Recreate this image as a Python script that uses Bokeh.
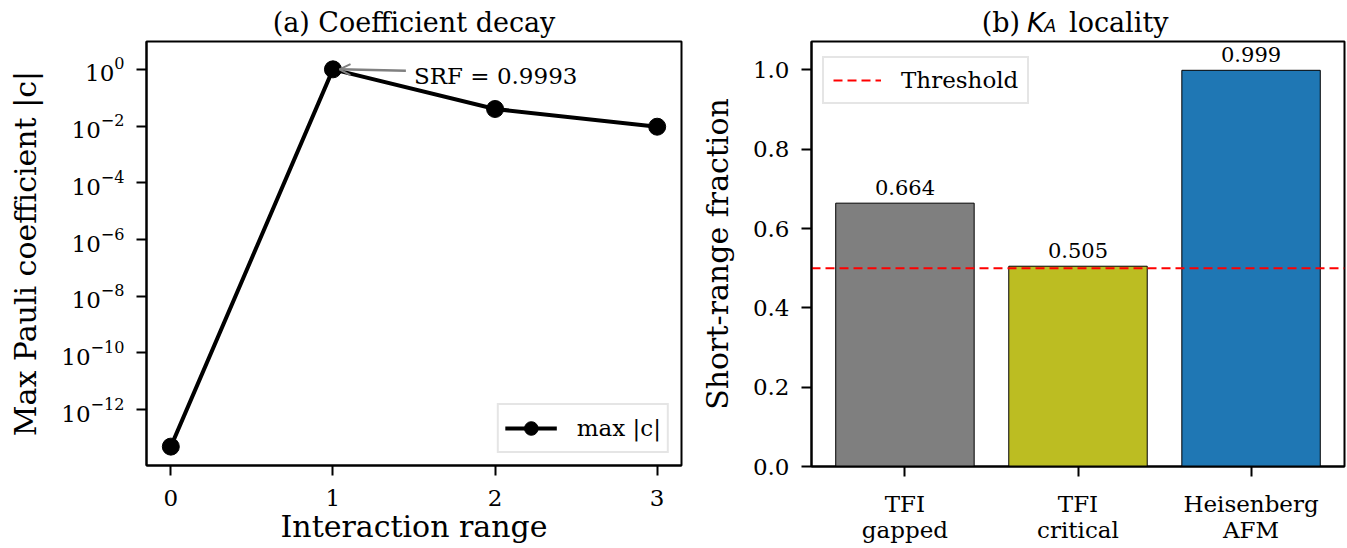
import numpy as np
from bokeh.plotting import figure
from bokeh.layouts import row, column
from bokeh.models import (Range1d, FixedTicker, LogTickFormatter, PrintfTickFormatter,
                          Arrow, OpenHead, Label, LabelSet, ColumnDataSource)
from bokeh.embed import file_html
from bokeh.resources import INLINE
from bokeh.core.properties import value

# ---------------- data ----------------
interaction_range = [0, 1, 2, 3]
max_coeff = [5.0e-14, 1.0, 0.040, 0.0095]
srf_text = "SRF = 0.9993"
log_ticks = [1e-12, 1e-10, 1e-8, 1e-6, 1e-4, 1e-2, 1e0]

categories = ["TFI\ngapped", "TFI\ncritical", "Heisenberg\nAFM"]
fractions = [0.664, 0.505, 0.999]
bar_colors = ["#7f7f7f", "#bcbd22", "#1f77b4"]
threshold = 0.5
frac_ticks = [0.0, 0.2, 0.4, 0.6, 0.8, 1.0]

SERIF = "DejaVu Serif"
SANS = "DejaVu Sans"
HEAD = 39          # header (title) strip height
H = 507            # main figure height
BOT = 80           # bottom border (x axis)
VIS = 416          # height of the data area proper (autoscaled limits)
EXT = 9            # extra head-room so the top bar label is not cut
TICK_FS = "23px"
LABEL_FS = "30px"
TITLE_FS = "27px"
W1, L1, R1 = 690, 146, 9
W2, L2, R2 = 656, 121, 2


def style(p):
    p.outline_line_color = "black"
    p.outline_line_width = 2
    p.outline_line_alpha = 1
    p.xgrid.visible = False
    p.ygrid.visible = False
    for ax in p.axis:
        ax.axis_line_width = 2
        ax.axis_line_color = "black"
        ax.major_tick_line_width = 2
        ax.major_tick_line_color = "black"
        ax.major_tick_out = 10
        ax.major_tick_in = 0
        ax.minor_tick_line_color = None
        ax.major_label_text_font = SERIF
        ax.major_label_text_font_size = TICK_FS
        ax.major_label_text_color = "black"
        ax.axis_label_text_font = SERIF
        ax.axis_label_text_font_style = "normal"
        ax.axis_label_text_font_size = LABEL_FS
        ax.axis_label_text_color = "black"
    p.xaxis.major_label_standoff = 14
    p.xaxis.axis_label_standoff = 0
    p.yaxis.major_label_standoff = 12
    p.yaxis.axis_label_standoff = 15


def header(width, xr):
    h = figure(width=width, height=HEAD, x_range=Range1d(*xr), y_range=Range1d(0, HEAD),
               x_axis_location=None, y_axis_location=None, toolbar_location=None,
               output_backend="svg", min_border=0, title=None)
    h.outline_line_color = None
    h.xgrid.visible = False
    h.ygrid.visible = False
    return h


TY = HEAD - 22     # title anchor height inside the header strip

# ---------------- (a) coefficient decay ----------------
lo, hi = np.log10(min(max_coeff)), np.log10(max(max_coeff))
pad = 0.05 * (hi - lo)
bot_log, top_log = lo - pad, hi + pad
end_log = top_log + EXT * (top_log - bot_log) / VIS
xpad = 0.05 * (max(interaction_range) - min(interaction_range))
x0, x1 = min(interaction_range) - xpad, max(interaction_range) + xpad

p1 = figure(width=W1, height=H, x_range=Range1d(x0, x1),
            y_range=Range1d(10 ** bot_log, 10 ** end_log),
            y_axis_type="log", output_backend="svg", toolbar_location=None,
            min_border_left=L1, min_border_right=R1, min_border_top=2, min_border_bottom=BOT)
style(p1)
p1.yaxis.ticker = FixedTicker(ticks=log_ticks)
p1.yaxis.formatter = LogTickFormatter()
p1.xaxis.ticker = FixedTicker(ticks=interaction_range)
p1.xaxis.axis_label = "Interaction range"
p1.yaxis.axis_label = "Max Pauli coefficient |c|"

p1.line(interaction_range, max_coeff, line_color="black", line_width=4, legend_label="max |c|")
p1.scatter(interaction_range, max_coeff, size=17, color="black", legend_label="max |c|")

imax = int(np.argmax(max_coeff))
p1.add_layout(Arrow(end=OpenHead(size=11, line_color="#808080", line_width=2),
                    x_start=interaction_range[imax] + 0.45, y_start=max_coeff[imax] * 0.90,
                    x_end=interaction_range[imax] + 0.04, y_end=max_coeff[imax],
                    line_color="#808080", line_width=2.5))
p1.add_layout(Label(x=interaction_range[imax] + 0.5, y=max_coeff[imax] * 0.60, text=srf_text,
                    text_baseline="middle", text_align="left", text_font=SERIF,
                    text_font_size=TICK_FS, text_color="black"))

p1.legend.location = "bottom_right"
p1.legend.label_text_font = SERIF
p1.legend.label_text_font_size = TICK_FS
p1.legend.label_text_color = "black"
p1.legend.border_line_color = "#cccccc"
p1.legend.border_line_width = 2
p1.legend.background_fill_alpha = 0.8
p1.legend.glyph_width = 52
p1.legend.glyph_height = 34
p1.legend.label_standoff = 20
p1.legend.margin = 12
p1.legend.padding = 6

h1 = header(W1, (x0, x1))
h1.add_layout(Label(x=(x0 + x1) / 2, y=TY, text="(a) Coefficient decay",
                    text_align="center", text_baseline="alphabetic",
                    text_font=SERIF, text_font_size=TITLE_FS, text_color="black"))

# ---------------- (b) K_A locality ----------------
n = len(categories)
bw = 0.8
bx = list(range(n))
span = (n - 1) + bw
bx0, bx1 = -bw / 2 - 0.05 * span, (n - 1) + bw / 2 + 0.05 * span
ytop = max(fractions) * 1.05
yend = ytop + EXT * ytop / VIS

src = ColumnDataSource(dict(x=bx, frac=fractions, color=bar_colors,
                            lab=[f"{v:.3f}" for v in fractions]))
p2 = figure(width=W2, height=H, x_range=Range1d(bx0, bx1), y_range=Range1d(0, yend),
            output_backend="svg", toolbar_location=None,
            min_border_left=L2, min_border_right=R2, min_border_top=2, min_border_bottom=BOT)
style(p2)
p2.yaxis.ticker = FixedTicker(ticks=frac_ticks)
p2.yaxis.formatter = PrintfTickFormatter(format="%.1f")
p2.yaxis.axis_label = "Short-range fraction"
p2.xaxis.ticker = FixedTicker(ticks=bx)
p2.xaxis.major_label_overrides = {i: c for i, c in zip(bx, categories)}
p2.xaxis.major_label_text_line_height = 1.0

p2.vbar(x="x", top="frac", width=bw, fill_color="color", line_color="black", line_width=1,
        source=src)
p2.line(x=[bx0, bx1], y=[threshold, threshold], line_color="red", line_dash="9 5",
        line_width=2, legend_label="Threshold")
p2.add_layout(LabelSet(x="x", y="frac", text="lab", source=src, text_align="center",
                       text_baseline="alphabetic", y_offset=8, text_font=value(SERIF),
                       text_font_size=value("21px"), text_color="black"))

p2.legend.location = (11, VIS - 12 - 42)
p2.legend.label_text_font = SERIF
p2.legend.label_text_font_size = TICK_FS
p2.legend.label_text_color = "black"
p2.legend.border_line_color = "#cccccc"
p2.legend.border_line_width = 2
p2.legend.background_fill_alpha = 0.8
p2.legend.glyph_width = 48
p2.legend.glyph_height = 20
p2.legend.label_standoff = 20
p2.legend.padding = 9

h2 = header(W2, (bx0, bx1))
cx = (bx0 + bx1) / 2
for txt, align, xo, yo, font, fs, fstyle in [
        ("(b)", "right", -58, 0, SERIF, TITLE_FS, "normal"),
        ("K", "left", -51, 0, SANS, TITLE_FS, "italic"),
        ("A", "left", -34, -3, SANS, "18px", "italic"),
        ("locality", "left", -9, 0, SERIF, TITLE_FS, "normal")]:
    h2.add_layout(Label(x=cx, y=TY, text=txt, text_align=align, text_baseline="alphabetic",
                        x_offset=xo, y_offset=yo, text_font=font, text_font_size=fs,
                        text_font_style=fstyle, text_color="black"))

layout = row(column(h1, p1), column(h2, p2))
open("out.html", "w").write(file_html(layout, INLINE))
